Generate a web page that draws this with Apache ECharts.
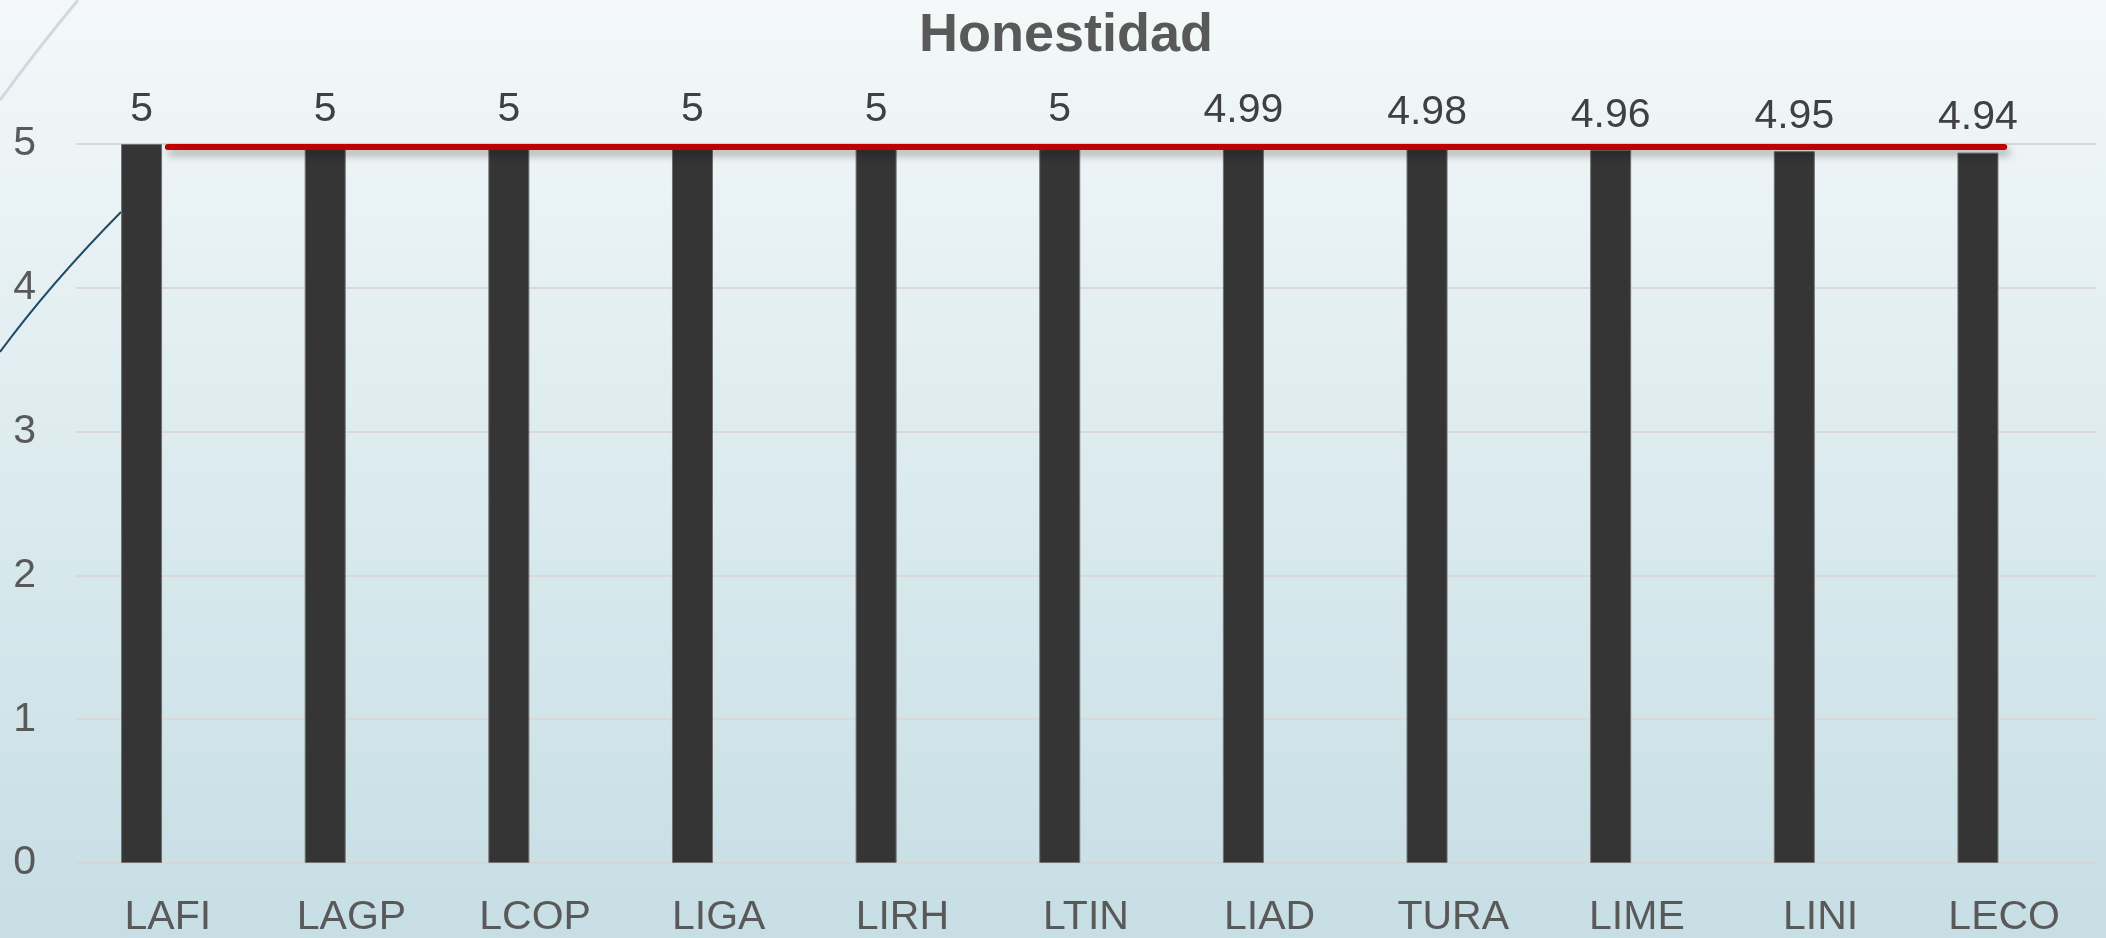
<!DOCTYPE html>
<html>
<head>
<meta charset="utf-8">
<script src="https://cdn.jsdelivr.net/npm/echarts@6/dist/echarts.min.js"></script>
<style>
  html, body { margin: 0; padding: 0; }
  #main { width: 2106px; height: 938px; }
</style>
</head>
<body>
<div id="main"></div>
<script>
  // datos
  var categorias = ['LAFI', 'LAGP', 'LCOP', 'LIGA', 'LIRH', 'LTIN', 'LIAD', 'TURA', 'LIME', 'LINI', 'LECO'];
  var honestidad = [5, 5, 5, 5, 5, 5, 4.99, 4.98, 4.96, 4.95, 4.94];
  var promedio = [4.98, 4.98, 4.98, 4.98, 4.98, 4.98, 4.98, 4.98, 4.98, 4.98, 4.98];
  var hueco = [null, null, null, null, null, null, null, null, null, null, null];
  var ticksY = [0, 1, 2, 3, 4, 5];

  var fuente = 'Liberation Sans';
  var myChart = echarts.init(document.getElementById('main'));

  var option = {
    animation: false,
    backgroundColor: {
      type: 'linear', x: 0, y: 0, x2: 0, y2: 1,
      colorStops: [
        { offset: 0, color: '#f4f8f9' },
        { offset: 0.5, color: '#dcebef' },
        { offset: 1, color: '#c6dee4' }
      ]
    },
    title: {
      text: 'Honestidad',
      left: 914,
      top: 4,
      textStyle: { fontFamily: fuente, fontWeight: 'bold', fontSize: 54, color: '#595959' }
    },
    // curvas decorativas del fondo de la diapositiva
    graphic: [
      {
        type: 'bezierCurve', z: 0, silent: true,
        shape: { x1: 0, y1: 100, cpx1: 35, cpy1: 52, x2: 78, y2: 0 },
        style: { stroke: '#cfdae0', lineWidth: 3, fill: null }
      },
      {
        type: 'bezierCurve', z: 0, silent: true,
        shape: { x1: 0, y1: 352, cpx1: 50, cpy1: 284, x2: 121, y2: 212 },
        style: { stroke: '#1f4b66', lineWidth: 2, fill: null }
      }
    ],
    grid: { left: 76, right: 10, top: 144, bottom: 74, containLabel: false },
    xAxis: {
      type: 'category',
      data: categorias,
      axisTick: { show: false },
      axisLine: { lineStyle: { color: '#d6d6d6', width: 2 } },
      axisLabel: { fontFamily: fuente, fontSize: 41, color: '#595959', margin: 34 }
    },
    yAxis: {
      type: 'value',
      min: ticksY[0],
      max: ticksY[ticksY.length - 1],
      interval: 1,
      axisLine: { show: false },
      axisTick: { show: false },
      splitLine: { lineStyle: { color: '#d9d9d9', width: 2 } },
      axisLabel: { fontFamily: fuente, fontSize: 41, color: '#595959', margin: 40 }
    },
    series: [
      {
        name: 'Honestidad',
        type: 'bar',
        data: honestidad,
        barWidth: 41,
        barGap: '28%',
        itemStyle: { color: '#353535', borderColor: '#707070', borderWidth: 1 },
        label: {
          show: true,
          position: 'top',
          distance: 14,
          fontFamily: fuente,
          fontSize: 41,
          color: '#404040'
        }
      },
      {
        name: 'hueco',
        type: 'bar',
        data: hueco,
        barWidth: 41,
        silent: true
      },
      {
        name: 'Promedio',
        type: 'line',
        data: promedio,
        symbol: 'none',
        z: 5,
        lineStyle: {
          color: '#c00000',
          width: 6,
          cap: 'round',
          shadowColor: 'rgba(0,0,0,0.35)',
          shadowBlur: 8,
          shadowOffsetX: 3,
          shadowOffsetY: 5
        }
      }
    ]
  };

  myChart.setOption(option);
</script>
</body>
</html>
